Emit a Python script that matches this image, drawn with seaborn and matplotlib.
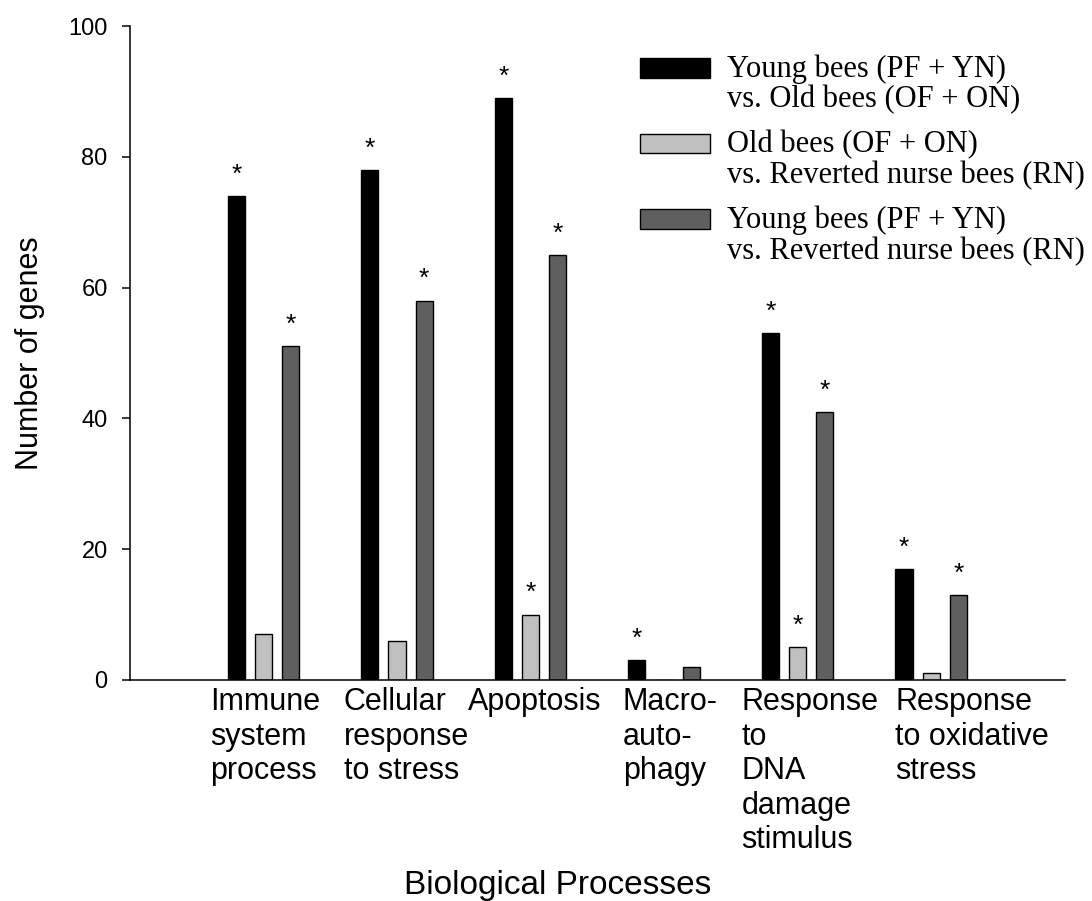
import numpy as np
import pandas as pd
import matplotlib
matplotlib.use("Agg")
import matplotlib.pyplot as plt
import matplotlib.patches as mpatches
from matplotlib.legend_handler import HandlerPatch
import seaborn as sns

# -----------------------------
# Data
# -----------------------------
categories = ["Immune", "Cellular", "Apoptosis", "Macro", "DNA", "Oxidative"]
category_labels = [
    "Immune\nsystem\nprocess",
    "Cellular\nresponse\nto stress",
    "Apoptosis",
    "Macro-\nauto-\nphagy",
    "Response\nto\nDNA\ndamage\nstimulus",
    "Response\nto oxidative\nstress",
]
series_names = [
    "Young bees (PF + YN)\nvs. Old bees (OF + ON)",
    "Old bees (OF + ON)\nvs. Reverted nurse bees (RN)",
    "Young bees (PF + YN)\nvs. Reverted nurse bees (RN)",
]
young_vs_old = [74, 78, 89, 3, 53, 17]
old_vs_reverted = [7, 6, 10, 0, 5, 1]
young_vs_reverted = [51, 58, 65, 2, 41, 13]

# significance stars per series
young_vs_old_sig = [True, True, True, True, True, True]
old_vs_reverted_sig = [False, False, True, False, True, False]
young_vs_reverted_sig = [True, True, True, False, True, True]

yticks = [0, 20, 40, 60, 80, 100]

# label left edge relative to group centre (layout only)
label_offsets = [-0.40, -0.40, -0.47, -0.31, -0.42, -0.27]

colors = ["#000000", "#c0c0c0", "#5f5f5f"]

df = pd.DataFrame({
    "process": categories * 3,
    "comparison": np.repeat(series_names, len(categories)),
    "genes": young_vs_old + old_vs_reverted + young_vs_reverted,
})
sig = [young_vs_old_sig, old_vs_reverted_sig, young_vs_reverted_sig]

# -----------------------------
# Plot
# -----------------------------
sns.set_style("ticks")
plt.rcParams["font.family"] = ["Liberation Sans", "DejaVu Sans"]
plt.rcParams.update({
    "text.color": "black",
    "axes.labelcolor": "black",
    "xtick.color": "black",
    "ytick.color": "black",
})

fig = plt.figure(figsize=(10.92, 9.01), dpi=100)
ax = fig.add_axes([0.119, 0.2453, 0.856, 0.7258])

sns.barplot(
    data=df, x="process", y="genes", hue="comparison",
    order=categories, hue_order=series_names, palette=colors,
    width=0.61, gap=0.37, edgecolor="black", linewidth=1.0,
    legend=False, ax=ax,
)

# stars above significant bars
for container, flags in zip(ax.containers, sig):
    for bar, flag in zip(container, flags):
        if flag:
            ax.text(
                bar.get_x() + bar.get_width() / 2,
                bar.get_height() + 2.2,
                "*", ha="center", va="baseline", fontsize=19,
            )

ax.set_xlim(-1, 6)
ax.set_ylim(0, 100)
ax.set_yticks(yticks)
ax.tick_params(axis="y", length=6, width=1.1, pad=10, labelsize=17)

ax.set_xticks(np.arange(len(categories)) + np.array(label_offsets))
ax.set_xticklabels(category_labels, ha="left", multialignment="left",
                   fontsize=22)
ax.tick_params(axis="x", length=0, pad=5)

for side in ["top", "right"]:
    ax.spines[side].set_visible(False)
for side in ["left", "bottom"]:
    ax.spines[side].set_linewidth(1.1)
    ax.spines[side].set_color("black")

ax.set_xlabel("Biological Processes", fontsize=24)
ax.xaxis.set_label_coords(0.458, -0.29)
ax.set_ylabel("Number of genes", fontsize=22)
ax.yaxis.set_label_coords(-0.091, 0.5)


# -----------------------------
# Legend: boxes aligned with the first text line
# -----------------------------
def top_box(legend, orig_handle, xdescent, ydescent, width, height, fontsize):
    return mpatches.Rectangle((-xdescent, -ydescent + 0.55 * fontsize),
                              width, height)


handles = [mpatches.Patch(facecolor=c, edgecolor="black", linewidth=1.0)
           for c in colors]
leg = fig.legend(
    handles, series_names, loc="upper left",
    bbox_to_anchor=(0.586, 0.94), frameon=False,
    prop={"family": "Liberation Serif", "size": 22},
    handlelength=2.3, handleheight=0.62, handletextpad=0.55,
    labelspacing=0.5, borderpad=0, borderaxespad=0,
    handler_map={mpatches.Patch: HandlerPatch(patch_func=top_box)},
)
for t in leg.get_texts():
    t.set_linespacing(1.08)

fig.savefig("out.png", dpi=100)
